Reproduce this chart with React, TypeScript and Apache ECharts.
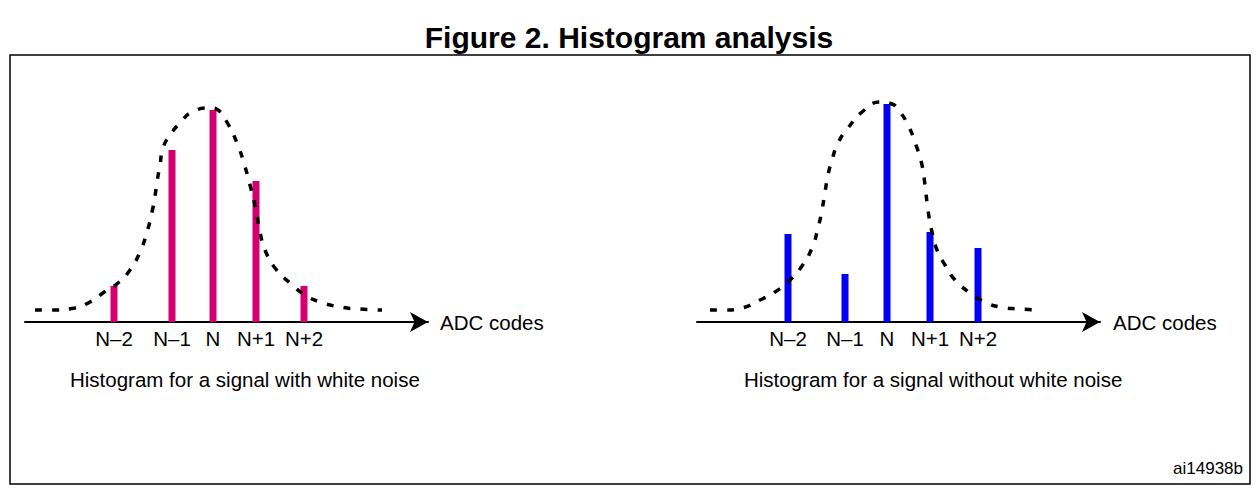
import * as echarts from "echarts";
import { useEffect, useRef } from "react";

// positions / heights in px-units along each panel's axis
const codes = ["N–2", "N–1", "N", "N+1", "N+2"];
const leftCodePos = [89, 147, 188, 231, 279];
const leftCounts = [36, 172, 212, 141, 36];
const rightCodePos = [91, 148, 190, 233, 281];
const rightCounts = [88, 48, 218, 90, 74];

const leftCurve: [number, number][] = [
	[10, 12], [25, 12], [50, 14], [65, 20], [78, 29], [93, 39], [105, 52], [115, 70], [122, 90],
	[127, 110], [130, 126], [132, 140], [135, 157], [138, 174], [145, 187], [155, 199], [167, 210],
	[185, 214], [193, 212], [203, 198], [212, 179], [218, 162], [225, 137], [231, 112], [235, 90],
	[240, 72], [250, 54], [265, 39], [280, 27], [295, 20], [315, 15], [335, 13], [357, 12],
];
const rightCurve: [number, number][] = [
	[13, 12], [28, 12], [45, 14], [63, 22], [78, 30], [93, 42], [105, 56], [115, 74], [121, 94],
	[125, 112], [128, 130], [131, 147], [135, 162], [141, 179], [151, 194], [165, 210], [183, 220],
	[195, 218], [203, 210], [211, 197], [219, 177], [225, 157], [228, 137], [231, 112], [235, 90],
	[240, 72], [248, 57], [258, 42], [273, 29], [288, 20], [303, 15], [323, 13], [341, 12],
];

const font = "Liberation Sans, Arial, sans-serif";
const fs = 20.5;

export default function App() {
	const chartRef = useRef<HTMLDivElement>(null);

	useEffect(() => {
		if (!chartRef.current) return;
		const chart = echarts.init(chartRef.current, null, { renderer: "svg" });
		const grids = [
			{ left: 25, top: 60, width: 403, height: 262 },
			{ left: 697, top: 60, width: 403, height: 262 },
		];
		const xAxis = [leftCodePos, rightCodePos].map((pos, i) => ({
			type: "value" as const,
			gridIndex: i,
			min: 0,
			max: 403,
			splitLine: { show: false },
			axisLine: {
				onZero: false,
				symbol: ["none", "arrow"],
				symbolSize: [15, 18],
				lineStyle: { color: "#000", width: 2 },
			},
			axisTick: { show: false },
			axisLabel: {
				customValues: pos,
				margin: 6,
				color: "#000",
				fontSize: fs,
				fontFamily: font,
				formatter: (v: number) => codes[pos.indexOf(v)] ?? "",
			},
		}));
		const yAxis = [0, 1].map((i) => ({
			type: "value" as const,
			gridIndex: i,
			min: 0,
			max: 262,
			show: false,
		}));
		const bars = (pos: number[], vals: number[], color: string, i: number) => ({
			type: "custom" as const,
			xAxisIndex: i,
			yAxisIndex: i,
			data: pos.map((p, k) => [p, vals[k]]),
			renderItem: (_: any, api: any) => {
				const top = api.coord([api.value(0), api.value(1)]);
				const base = api.coord([api.value(0), 0]);
				return {
					type: "rect",
					shape: { x: top[0] - 3.5, y: top[1], width: 7, height: base[1] - top[1] },
					style: { fill: color },
				};
			},
		});
		const curve = (data: [number, number][], i: number) => ({
			type: "line" as const,
			xAxisIndex: i,
			yAxisIndex: i,
			data,
			smooth: true,
			showSymbol: false,
			lineStyle: { color: "#000", width: 3.5, type: [7, 10] },
		});
		const txt = (x: number, y: number, text: string, size = fs, align = "left") => ({
			type: "text",
			x,
			y,
			style: { text, fontSize: size, fontFamily: font, fill: "#000", align, verticalAlign: "middle" },
		});
		chart.setOption({
			animation: false,
			title: {
				text: "Figure 2. Histogram analysis",
				left: "center",
				top: 17,
				textStyle: { fontSize: 30, fontWeight: "bold", color: "#000", fontFamily: font },
			},
			grid: grids,
			xAxis,
			yAxis,
			series: [
				curve(leftCurve, 0),
				curve(rightCurve, 1),
				bars(leftCodePos, leftCounts, "#d4006f", 0),
				bars(rightCodePos, rightCounts, "#0000f5", 1),
			],
			graphic: [
				{ type: "rect", shape: { x: 10, y: 55, width: 1240, height: 429 }, style: { fill: "none", stroke: "#000", lineWidth: 1.5 }, z: -1 },
				txt(440, 322, "ADC codes"),
				txt(1113, 322, "ADC codes"),
				txt(70, 379, "Histogram for a signal with white noise"),
				txt(744, 379, "Histogram for a signal without white noise"),
				txt(1243, 468, "ai14938b", 17, "right"),
			],
		});
		return () => chart.dispose();
	}, []);

	return (
		<div
			ref={chartRef}
			style={{ position: "fixed", left: 0, top: 0, width: 1258, height: 492, background: "#fff" }}
		/>
	);
}
